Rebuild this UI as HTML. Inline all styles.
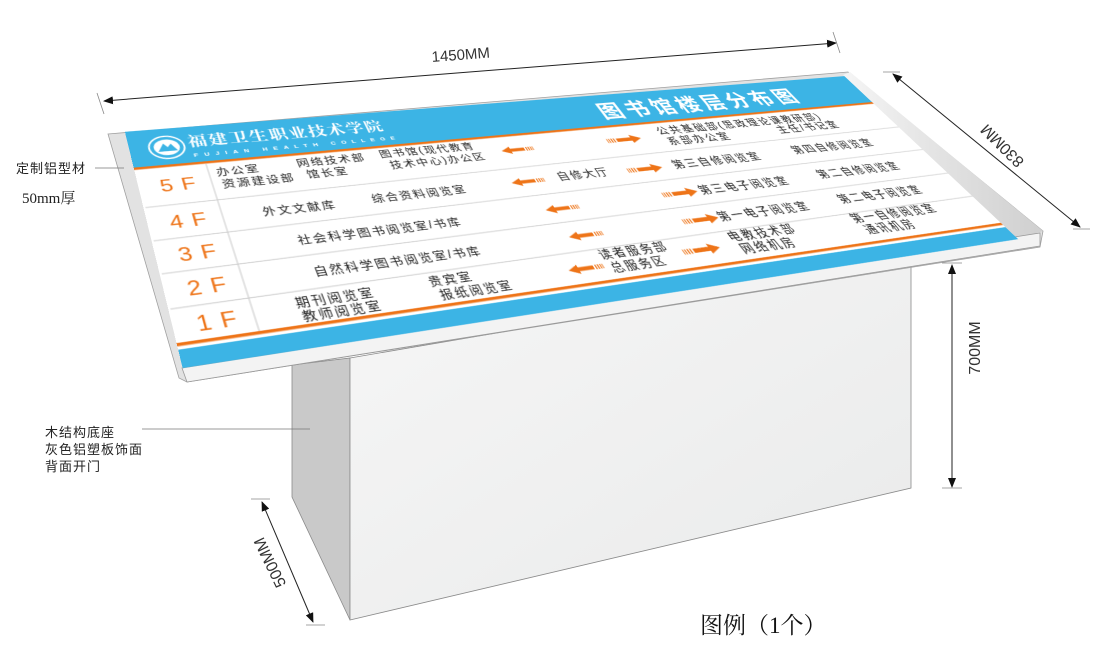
<!DOCTYPE html>
<html><head><meta charset="utf-8">
<style>
html,body{margin:0;padding:0;background:#fff;}
body{width:1100px;height:649px;position:relative;overflow:hidden;font-family:"Liberation Sans","Noto Sans CJK SC",sans-serif;}
#bg{position:absolute;left:0;top:0;}
#face{position:absolute;left:0;top:0;width:1000px;height:220px;transform-origin:0 0;
transform:matrix3d(1.00347,-0.0348,0,0.00030294, 0.0735,0.562227,0,-0.00068914, 0,0,1,0, 134,169,0,1);}
#face svg{position:absolute;left:0;top:-60px;overflow:visible;}
.t{font-family:"Liberation Sans","Noto Sans CJK SC",sans-serif;font-size:14px;fill:#222;letter-spacing:2px;}
.m{font-size:15px;}
.r{font-size:16px;letter-spacing:2.5px;}
.fl{font-family:"Liberation Sans",sans-serif;font-size:24px;fill:#ee7418;letter-spacing:9px;}
</style></head><body>
<svg id="bg" width="1100" height="649" viewBox="0 0 1100 649">
<defs>
<marker id="ah" markerWidth="10" markerHeight="8" refX="9" refY="4" orient="auto" markerUnits="userSpaceOnUse">
<path d="M0,0 L10,4 L0,8 z" fill="#111"/></marker>
<marker id="at" markerWidth="10" markerHeight="8" refX="1" refY="4" orient="auto" markerUnits="userSpaceOnUse">
<path d="M10,0 L0,4 L10,8 z" fill="#111"/></marker>
<linearGradient id="fr" x1="0" y1="0" x2="1" y2="0"><stop offset="0" stop-color="#f5f5f5"/><stop offset="1" stop-color="#cfcfcf"/></linearGradient>
<linearGradient id="fg" x1="0" y1="0" x2="1" y2="1"><stop offset="0" stop-color="#f6f6f6"/><stop offset="1" stop-color="#e9eaea"/></linearGradient>
</defs>
<polygon points="292,365 350,358 350,620 292,497" fill="#c9c9c9" stroke="#8a8a8a" stroke-width="0.8"/>
<polygon points="350,358 911,262 911,488 350,620" fill="url(#fg)" stroke="#8a8a8a" stroke-width="0.8"/>
<polygon points="108,134 848,72 1043,231 1040,247 187,382 179,378" fill="#e2e2e2" stroke="#a0a0a0" stroke-width="0.8"/>
<polygon points="843,75 850,72 1043,231 1018,239" fill="url(#fr)"/>
<polygon points="182,368 1040,233 1040,246 187,382" fill="#f3f3f3" stroke="#999" stroke-width="0.8"/>
<line x1="104" y1="101" x2="836" y2="43" stroke="#222" stroke-width="1" marker-start="url(#at)" marker-end="url(#ah)"/>
<line x1="97" y1="93" x2="104" y2="114" stroke="#888" stroke-width="0.8"/>
<line x1="833" y1="32" x2="840" y2="53" stroke="#888" stroke-width="0.8"/>
<text x="432" y="62" transform="rotate(-4.4 432 62)" font-family="Liberation Sans" font-size="15" fill="#333">1450MM</text>
<line x1="893" y1="74" x2="1080" y2="227" stroke="#222" stroke-width="1" marker-start="url(#at)" marker-end="url(#ah)"/>
<line x1="883" y1="72" x2="900" y2="72" stroke="#888" stroke-width="0.8"/>
<line x1="1073" y1="229" x2="1090" y2="229" stroke="#888" stroke-width="0.8"/>
<text x="1003" y="145" transform="rotate(-135 1003 145)" text-anchor="middle" dominant-baseline="middle" font-family="Liberation Sans" font-size="16" fill="#333">830MM</text>
<line x1="952" y1="265" x2="952" y2="487" stroke="#222" stroke-width="1" marker-start="url(#at)" marker-end="url(#ah)"/>
<line x1="942" y1="263" x2="962" y2="263" stroke="#888" stroke-width="0.8"/>
<line x1="942" y1="488" x2="962" y2="488" stroke="#888" stroke-width="0.8"/>
<text x="976" y="348" transform="rotate(-90 976 348)" text-anchor="middle" dominant-baseline="middle" font-family="Liberation Sans" font-size="16" fill="#333">700MM</text>
<line x1="262" y1="502" x2="313" y2="622" stroke="#222" stroke-width="1" marker-start="url(#at)" marker-end="url(#ah)"/>
<line x1="251" y1="499" x2="270" y2="499" stroke="#888" stroke-width="0.8"/>
<line x1="306" y1="625" x2="325" y2="625" stroke="#888" stroke-width="0.8"/>
<text x="271" y="562" transform="rotate(-116 271 562)" text-anchor="middle" dominant-baseline="middle" font-family="Liberation Sans" font-size="16" fill="#333">500MM</text>
<line x1="95" y1="168" x2="124" y2="168" stroke="#777" stroke-width="0.8"/>
<text x="16" y="173" font-family="Liberation Sans,Noto Sans CJK SC,sans-serif" font-size="13" fill="#222" letter-spacing="1">定制铝型材</text>
<text x="22" y="203" font-family="Liberation Serif,Noto Serif CJK SC,serif" font-size="15" fill="#222">50mm厚</text>
<line x1="142" y1="429" x2="310" y2="429" stroke="#777" stroke-width="0.8"/>
<text font-family="Liberation Sans,Noto Sans CJK SC,sans-serif" font-size="13" fill="#222" letter-spacing="1">
<tspan x="45" y="437">木结构底座</tspan><tspan x="45" y="454">灰色铝塑板饰面</tspan><tspan x="45" y="471">背面开门</tspan></text>
<text x="700" y="633" font-family="Liberation Serif,Noto Serif CJK SC,serif" font-size="23" fill="#111">图例（1个）</text>
</svg>

<div id="face">
<svg width="1000" height="310" viewBox="0 -60 1000 310">
<defs>
<g id="la"><path d="M0,0 L12,-6 L12,-2.5 L30,-2.5 L30,2.5 L12,2.5 L12,6 z" fill="#ee7418"/>
<rect x="32" y="-3" width="1.5" height="6" fill="#ee7418"/><rect x="35" y="-3" width="1.5" height="6" fill="#ee7418"/><rect x="38" y="-3" width="1.2" height="6" fill="#ee7418"/><rect x="40.5" y="-3" width="1" height="6" fill="#ee7418"/></g>
<g id="ra"><use href="#la" transform="translate(48,0) scale(-1.15,1.15)"/></g>
</defs>
<rect x="0" y="-57" width="1000" height="301" fill="#fff"/>
<rect x="0" y="-57" width="1000" height="56" fill="#3cb4e5"/>
<rect x="0" y="-2" width="1000" height="3.5" fill="#ee7418"/>
<rect x="0" y="218" width="1000" height="3.5" fill="#ee7418"/>
<rect x="0" y="225" width="1000" height="19" fill="#3cb4e5"/>
<ellipse cx="40" cy="-28" rx="19" ry="17" fill="#3cb4e5" stroke="#fff" stroke-width="2"/>
<ellipse cx="40" cy="-28" rx="14" ry="12" fill="#fff"/>
<path d="M30,-22 L37,-34 L41,-28 L45,-33 L51,-22 z" fill="#3cb4e5"/>
<text x="64" y="-27" font-family="Noto Serif CJK SC,serif" font-size="21" font-weight="bold" fill="#fff" letter-spacing="2">福建卫生职业技术学院</text>
<text x="66" y="-10" font-family="Liberation Sans,sans-serif" font-size="8" font-weight="bold" fill="#fff" letter-spacing="6.5">FUJIAN HEALTH COLLEGE</text>
<text x="582" y="-15" font-family="Liberation Sans,Noto Sans CJK SC,sans-serif" font-size="33" font-weight="bold" fill="#fff" letter-spacing="6">图书馆楼层分布图</text>
<g stroke="#c8c8c8" stroke-width="1">
<line x1="2" y1="55" x2="1000" y2="48"/>
<line x1="2" y1="99" x2="1000" y2="91"/>
<line x1="2" y1="140" x2="1000" y2="134"/>
<line x1="2" y1="181" x2="1000" y2="174"/>
<line x1="76" y1="1" x2="76" y2="218"/>
</g>
<text class="fl" x="22" y="36">5F</text>
<text class="fl" x="22" y="86">4F</text>
<text class="fl" x="22" y="128">3F</text>
<text class="fl" x="22" y="169">2F</text>
<text class="fl" x="22" y="209">1F</text>
<text class="t" x="84" y="20">办公室</text><text class="t" x="86" y="38">资源建设部</text>
<text class="t" x="174" y="18">网络技术部</text><text class="t" x="180" y="36">馆长室</text>
<text class="t" x="272" y="16">图书馆(现代教育</text><text class="t" x="278" y="34">技术中心)办公区</text>
<use href="#la" x="420" y="24"/>
<use href="#ra" x="563" y="24"/>
<text class="t r" x="640" y="21">公共基础部(思政理论课教研部)</text>
<text class="t r" x="644" y="40">系部办公室</text><text class="t r" x="812" y="38">主任/书记室</text>
<text class="t" x="118" y="82">外文文献库</text>
<text class="t" x="239" y="80">综合资料阅览室</text>
<use href="#la" x="408" y="74"/>
<text class="t m" x="468" y="77">自修大厅</text>
<use href="#ra" x="561" y="74"/>
<text class="t r" x="625" y="78">第三自修阅览室</text>
<text class="t r" x="806" y="75">第四自修阅览室</text>
<text class="t" x="143" y="124">社会科学图书阅览室/书库</text>
<use href="#la" x="428" y="118"/>
<use href="#ra" x="582" y="116"/>
<text class="t r" x="633" y="121">第三电子阅览室</text>
<text class="t r" x="810" y="118">第二自修阅览室</text>
<text class="t" x="147" y="165">自然科学图书阅览室/书库</text>
<use href="#la" x="435" y="158"/>
<use href="#ra" x="582" y="157"/>
<text class="t r" x="630" y="162">第一电子阅览室</text>
<text class="t r" x="807" y="159">第二电子阅览室</text>
<text class="t" x="118" y="198">期刊阅览室</text><text class="t" x="120" y="214">教师阅览室</text>
<text class="t" x="257" y="195">贵宾室</text><text class="t" x="262" y="212">报纸阅览室</text>
<use href="#la" x="411" y="200"/>
<text class="t m" x="456" y="191">读者服务部</text><text class="t m" x="460" y="209">总服务区</text>
<use href="#ra" x="555" y="197"/>
<text class="t r" x="623" y="191">电教技术部</text><text class="t r" x="627" y="209">网络机房</text>
<text class="t r" x="800" y="189">第一自修阅览室</text><text class="t r" x="805" y="207">通讯机房</text>
</svg>
</div>
</body></html>
